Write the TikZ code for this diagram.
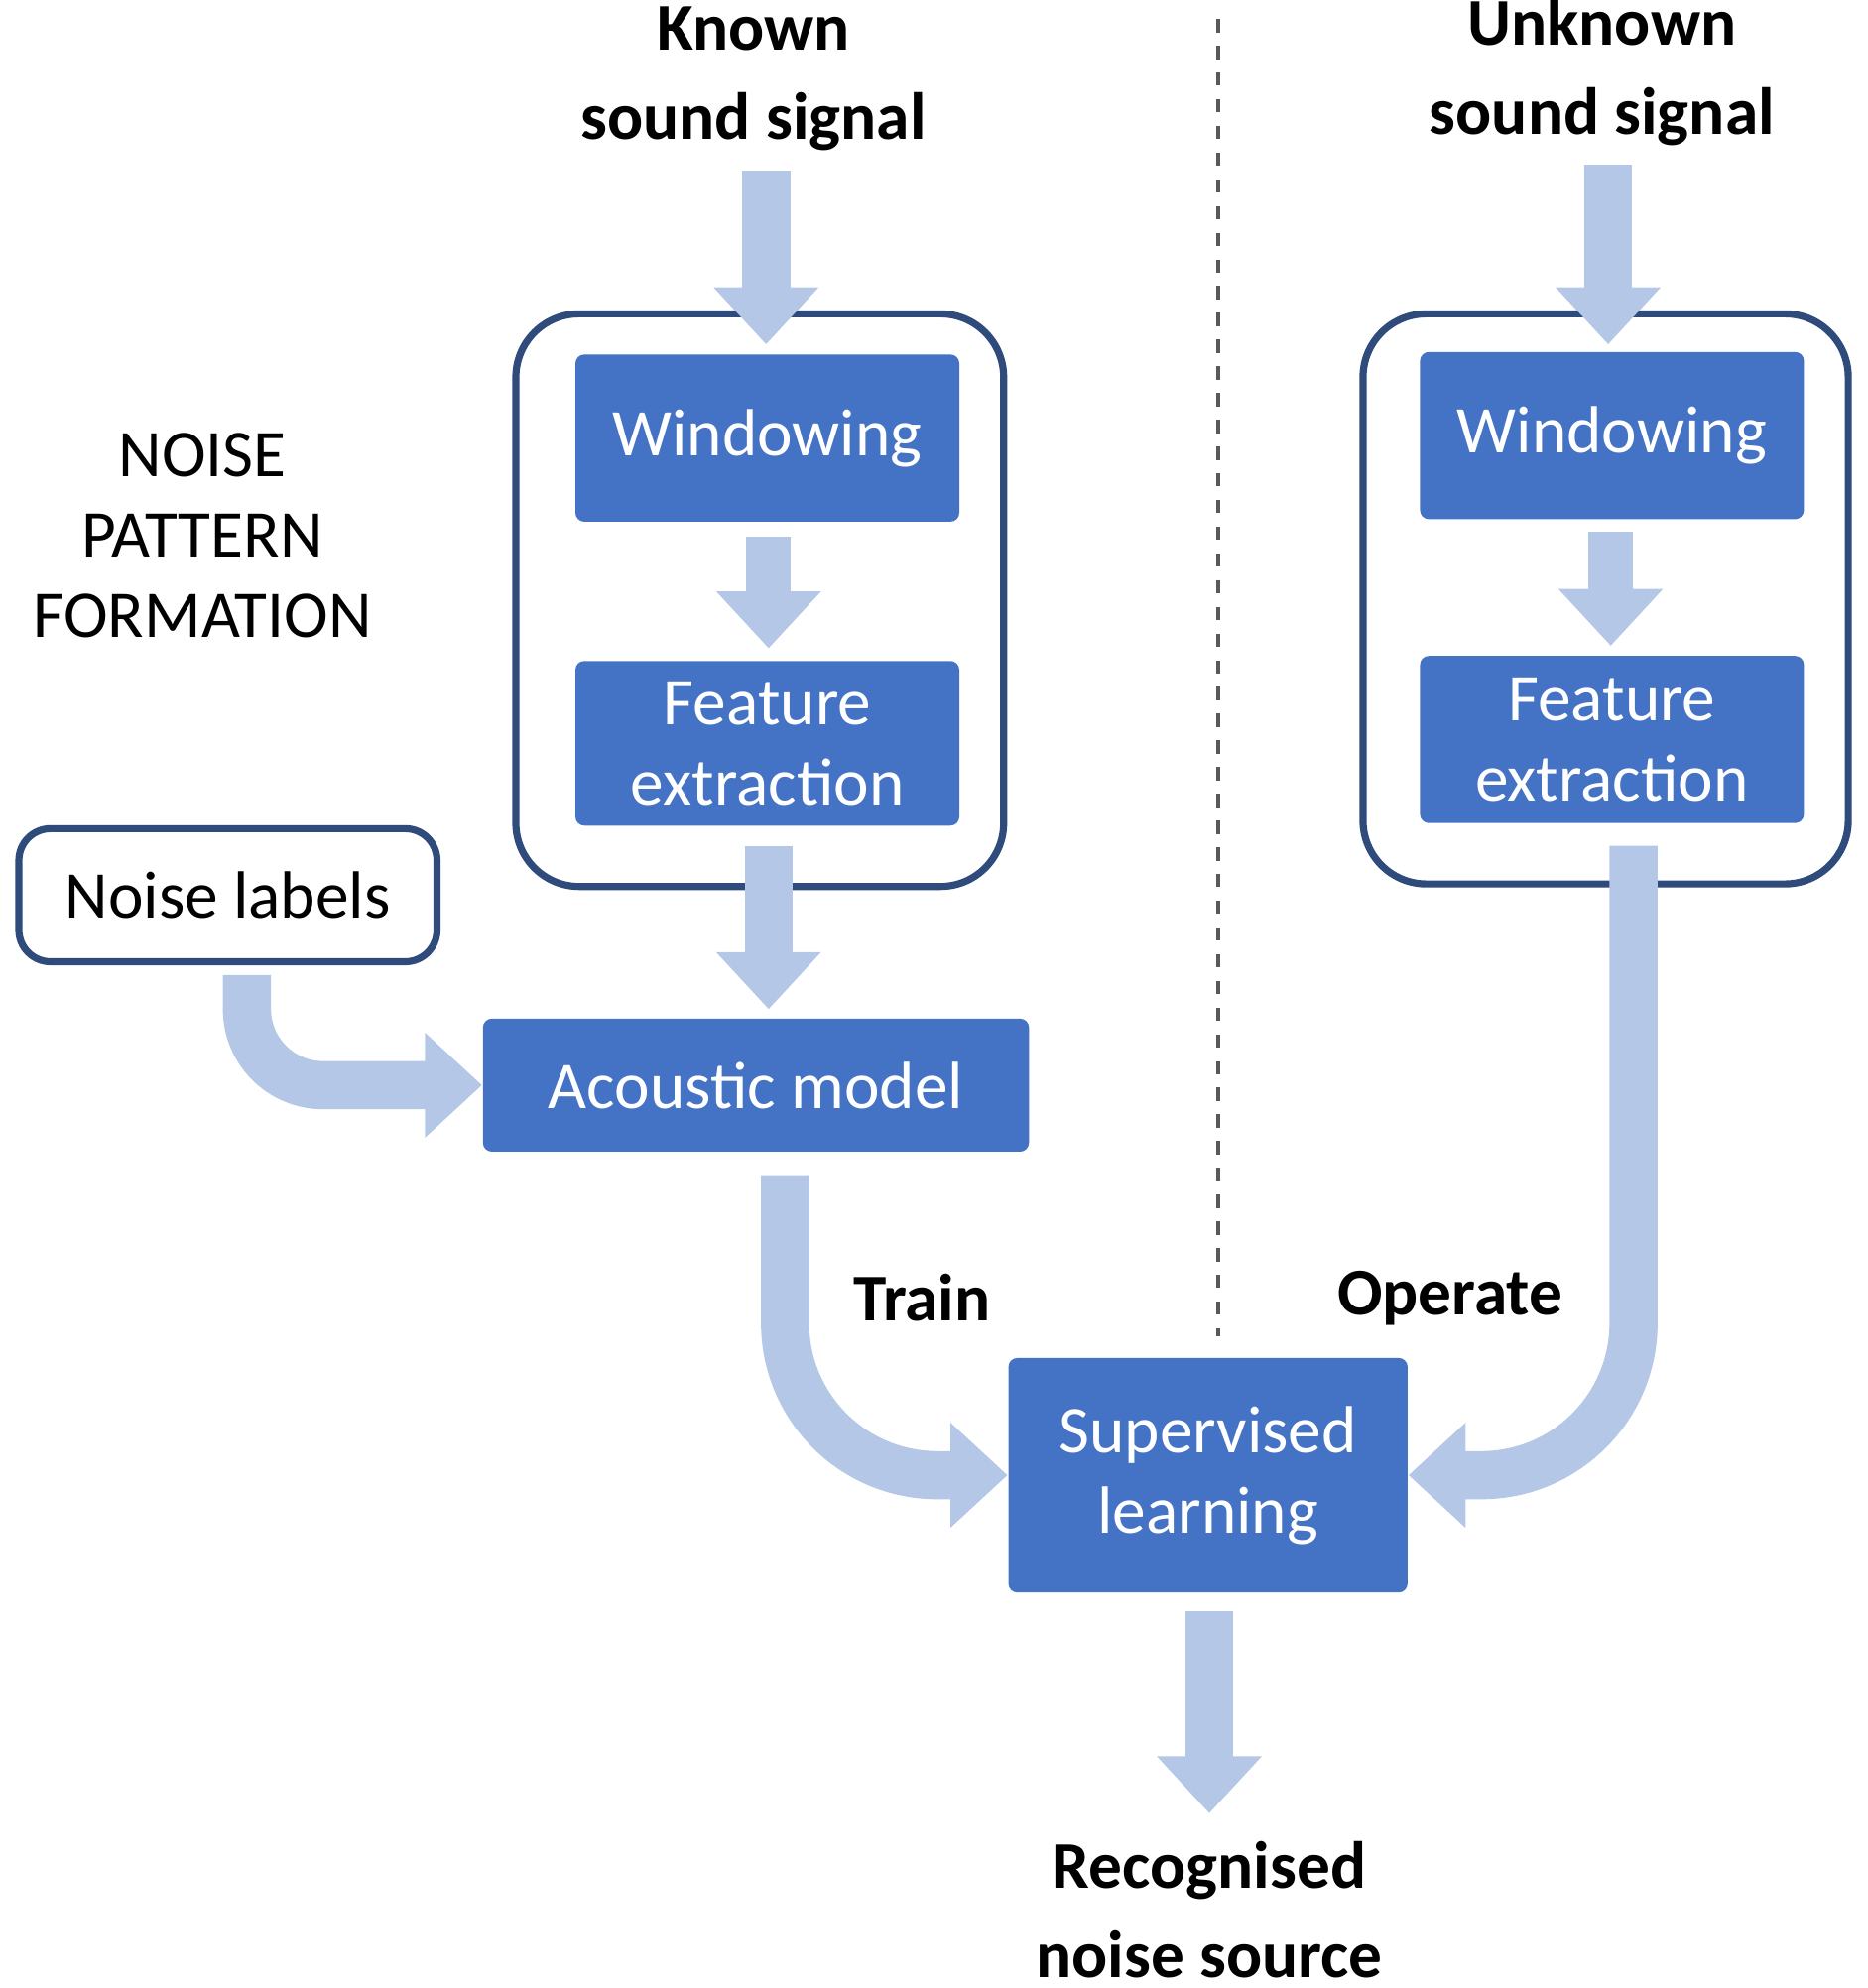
\documentclass[tikz,border=0pt]{standalone}
\usepackage{fontspec}
\setmainfont{Carlito}
\usetikzlibrary{arrows.meta,positioning}
\definecolor{boxblue}{HTML}{4472C4}
\definecolor{arrowblue}{HTML}{B4C7E7}
\definecolor{frameblue}{HTML}{2F4B7C}

\begin{document}
\begin{tikzpicture}[x=0.01cm,y=-0.01cm,font=\fontsize{15}{18}\selectfont]
		\tikzstyle{stage}=[rectangle, rounded corners=2pt, fill=boxblue, text=white, align=center, inner sep=0pt]
		\tikzstyle{frame}=[rectangle, rounded corners=0.5cm, draw=frameblue, line width=1.6pt]
		\tikzstyle{caption}=[align=center, font=\fontsize{15}{20}\selectfont\bfseries]
		\tikzstyle{flow}=[draw=arrowblue, line width=0.38cm, rounded corners=0.6cm, -{Triangle[width=0.8cm,length=0.45cm]}]

		\useasboundingbox (0,0) rectangle (1475,1570);

		% training side
		\node [caption] (known) at (595,62) {Known\\sound signal};
		\node [frame, minimum width=3.85cm, minimum height=4.52cm] (lframe) at (600,474) {};
		\node [stage, minimum width=3.03cm, minimum height=1.32cm] (lwin) at (606,346) {Windowing};
		\node [stage, minimum width=3.03cm, minimum height=1.30cm] (lfeat) at (606,587) {Feature\\extraction};
		\node [stage, minimum width=4.31cm, minimum height=1.05cm] (acoustic) at (597,857) {Acoustic model};
		\node [frame, rounded corners=0.25cm, minimum width=3.30cm, minimum height=1.05cm] (labels) at (180,707) {Noise labels};
		\node [align=center] (phase) at (160,423) {NOISE\\PATTERN\\FORMATION};

		\coordinate (k1) at (605,135);
		\coordinate (k2) at (605,272);
		\coordinate (l1) at (607,424);
		\coordinate (l2) at (607,512);
		\coordinate (l3) at (607,668);
		\coordinate (l4) at (607,797);
		\coordinate (n1) at (195,770);
		\draw [flow] (k1) -- (k2);
		\draw [flow, line width=0.35cm] (l1) -- (l2);
		\draw [flow] (l3) -- (l4);
		\draw [flow] (n1) |- (acoustic.west);

		% operating side
		\draw [dashed, thick, gray!70!black] (962,15) coordinate (d1) -- (962,1055) coordinate (d2);
		\node [caption] (unknown) at (1265,57) {Unknown\\sound signal};
		\node [frame, minimum width=3.83cm, minimum height=4.50cm] (rframe) at (1268,473) {};
		\node [stage, minimum width=3.03cm, minimum height=1.32cm] (rwin) at (1273,344) {Windowing};
		\node [stage, minimum width=3.03cm, minimum height=1.32cm] (rfeat) at (1273,584) {Feature\\extraction};

		\coordinate (u1) at (1270,130);
		\coordinate (u2) at (1270,272);
		\coordinate (r1) at (1272,420);
		\coordinate (r2) at (1272,510);
		\draw [flow] (u1) -- (u2);
		\draw [flow, line width=0.35cm] (r1) -- (r2);

		% learning
		\node [stage, minimum width=3.15cm, minimum height=1.85cm] (learn) at (954,1165) {Supervised\\learning};
		\node [caption] (train) at (728,1025) {Train};
		\node [caption] (operate) at (1145,1025) {Operate};
		\node [caption] (result) at (955,1508) {Recognised\\noise source};

		\coordinate (t1) at (620,928);
		\coordinate (o1) at (1290,668);
		\coordinate (s1) at (955,1272);
		\coordinate (s2) at (955,1432);
		\draw [flow, rounded corners=1.2cm] (t1) |- (learn.west);
		\draw [flow, rounded corners=1.2cm] (o1) |- (learn.east);
		\draw [flow] (s1) -- (s2);
	\end{tikzpicture}
\end{document}
